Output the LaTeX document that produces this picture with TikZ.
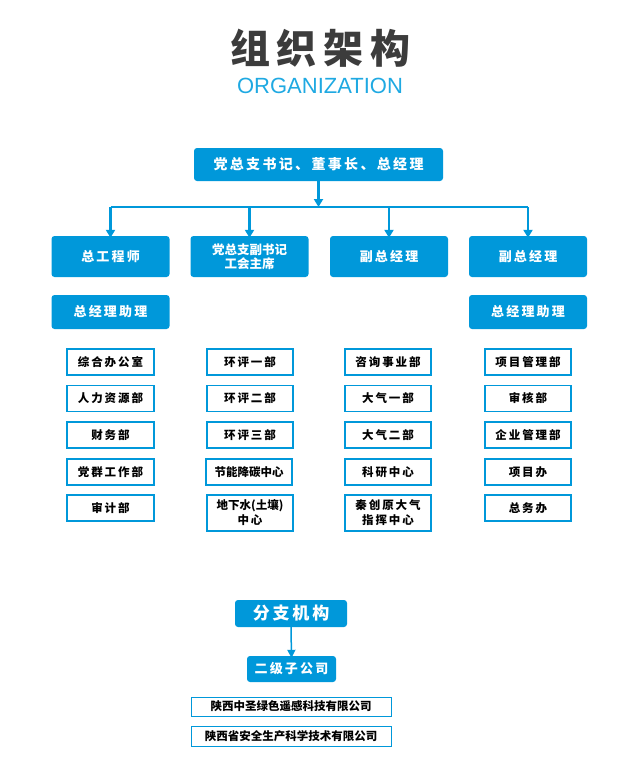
\documentclass[tikz,border=0pt]{standalone}
\usepackage{fontspec}
\setmainfont{Noto Sans CJK SC}
\newfontfamily\latinfont{Liberation Sans}
\usetikzlibrary{arrows.meta}
\definecolor{myblue}{RGB}{0,152,218}
\definecolor{titlegray}{RGB}{60,60,60}
\definecolor{lightblue}{RGB}{31,169,226}
\tikzset{
  bluebox/.style={fill=myblue, rounded corners=3pt, text=white, align=center, inner sep=0pt, font=\bfseries\fontsize{13}{15}\selectfont},
  whitebox/.style={draw=myblue, line width=1.2pt, fill=white, text=black, align=center, inner sep=0pt, font=\bfseries\fontsize{11.5}{14}\selectfont},
  bus/.style={draw=myblue, line width=2.6pt},
  arr/.style={draw=myblue, line width=2.2pt, -{Triangle[length=8pt,width=9pt]}},
}
\begin{document}
\begin{tikzpicture}[x=1pt,y=-1pt]
\useasboundingbox (0,0) rectangle (629,779);
% title
\node[text=titlegray, font=\bfseries\fontsize{40}{44}\selectfont] (title) at (320,48) {组\,织\,架\,构};
\node[text=lightblue, font=\latinfont\fontsize{22}{24}\selectfont] (subtitle) at (320,86) {ORGANIZATION};
% top
\node[bluebox, minimum width=249pt, minimum height=33pt, font=\bfseries\fontsize{14}{16}\selectfont] (top) at (318.5,164.5) {党\,总\,支\,书\,记\,、\,董\,事\,长\,、\,总\,经\,理};
% bus
\coordinate (busC) at (318.5,207);
\coordinate (busL) at (110.5,207);
\coordinate (busR) at (528,207);
\coordinate (bus2) at (249.5,207);
\coordinate (bus3) at (389,207);
% row 2
\node[bluebox, minimum width=118pt, minimum height=41pt] (a1) at (110.5,256.5) {总\,工\,程\,师};
\node[bluebox, minimum width=118pt, minimum height=41pt, font=\bfseries\fontsize{12.5}{14}\selectfont] (a2) at (249.5,256.5) {党总支副书记\\工会主席};
\node[bluebox, minimum width=118pt, minimum height=41pt] (a3) at (389,256.5) {副\,总\,经\,理};
\node[bluebox, minimum width=118pt, minimum height=41pt] (a4) at (528,256.5) {副\,总\,经\,理};
\draw[arr] (top.south) -- (busC);
\draw[bus] (busL) -- (busR);
\draw[arr] (busL) -- ([yshift=-2pt]a1.north);
\draw[arr] (bus2) -- ([yshift=-2pt]a2.north);
\draw[arr] (bus3) -- ([yshift=-2pt]a3.north);
\draw[arr] (busR) -- ([yshift=-2pt]a4.north);
% assistants
\node[bluebox, minimum width=118pt, minimum height=34pt] (b1) at (110.5,312) {总\,经\,理\,助\,理};
\node[bluebox, minimum width=118pt, minimum height=34pt] (b4) at (528,312) {总\,经\,理\,助\,理};
% column 1
\node[whitebox, minimum width=87pt, minimum height=26pt] (c11) at (110.5,362) {综\,合\,办\,公\,室};
\node[whitebox, minimum width=87pt, minimum height=26pt] (c12) at (110.5,398.5) {人\,力\,资\,源\,部};
\node[whitebox, minimum width=87pt, minimum height=26pt] (c13) at (110.5,435) {财\,务\,部};
\node[whitebox, minimum width=87pt, minimum height=26pt] (c14) at (110.5,472) {党\,群\,工\,作\,部};
\node[whitebox, minimum width=87pt, minimum height=26pt] (c15) at (110.5,508) {审\,计\,部};
% column 2
\node[whitebox, minimum width=86pt, minimum height=26pt] (c21) at (250,362) {环\,评\,一\,部};
\node[whitebox, minimum width=86pt, minimum height=26pt] (c22) at (250,398.5) {环\,评\,二\,部};
\node[whitebox, minimum width=86pt, minimum height=26pt] (c23) at (250,435) {环\,评\,三\,部};
\node[whitebox, minimum width=86pt, minimum height=26pt] (c24) at (249,472) {节能降碳中心};
\node[whitebox, minimum width=86pt, minimum height=36pt, font=\bfseries\fontsize{11.5}{15}\selectfont] (c25) at (250,513) {地下水(土壤)\\中\,心};
% column 3
\node[whitebox, minimum width=86pt, minimum height=26pt] (c31) at (388,362) {咨\,询\,事\,业\,部};
\node[whitebox, minimum width=86pt, minimum height=26pt] (c32) at (388,398.5) {大\,气\,一\,部};
\node[whitebox, minimum width=86pt, minimum height=26pt] (c33) at (388,435) {大\,气\,二\,部};
\node[whitebox, minimum width=86pt, minimum height=26pt] (c34) at (388,472) {科\,研\,中\,心};
\node[whitebox, minimum width=86pt, minimum height=36pt, font=\bfseries\fontsize{11.5}{15}\selectfont] (c35) at (388,513) {秦\,创\,原\,大\,气\\指\,挥\,中\,心};
% column 4
\node[whitebox, minimum width=86pt, minimum height=26pt] (c41) at (528,362) {项\,目\,管\,理\,部};
\node[whitebox, minimum width=86pt, minimum height=26pt] (c42) at (528,398.5) {审\,核\,部};
\node[whitebox, minimum width=86pt, minimum height=26pt] (c43) at (528,435) {企\,业\,管\,理\,部};
\node[whitebox, minimum width=86pt, minimum height=26pt] (c44) at (528,472) {项\,目\,办};
\node[whitebox, minimum width=86pt, minimum height=26pt] (c45) at (528,508) {总\,务\,办};
% branches
\node[bluebox, minimum width=112pt, minimum height=27pt, font=\bfseries\fontsize{17}{19}\selectfont] (br) at (291,613.5) {分\,支\,机\,构};
\node[bluebox, minimum width=89pt, minimum height=26pt, font=\bfseries\fontsize{13}{15}\selectfont] (sub) at (291.5,669) {二\,级\,子\,公\,司};
\draw[myblue, line width=1.5pt, -{Triangle[length=8pt,width=8pt]}] (br.south) -- ([yshift=-2pt]sub.north);
\node[whitebox, line width=1pt, minimum width=200pt, minimum height=19pt, font=\bfseries\fontsize{11.5}{13}\selectfont] (co1) at (291,706.5) {陕西中圣绿色遥感科技有限公司};
\node[whitebox, line width=1pt, minimum width=200pt, minimum height=20pt, font=\bfseries\fontsize{11.5}{13}\selectfont] (co2) at (291,736) {陕西省安全生产科学技术有限公司};
\end{tikzpicture}
\end{document}
